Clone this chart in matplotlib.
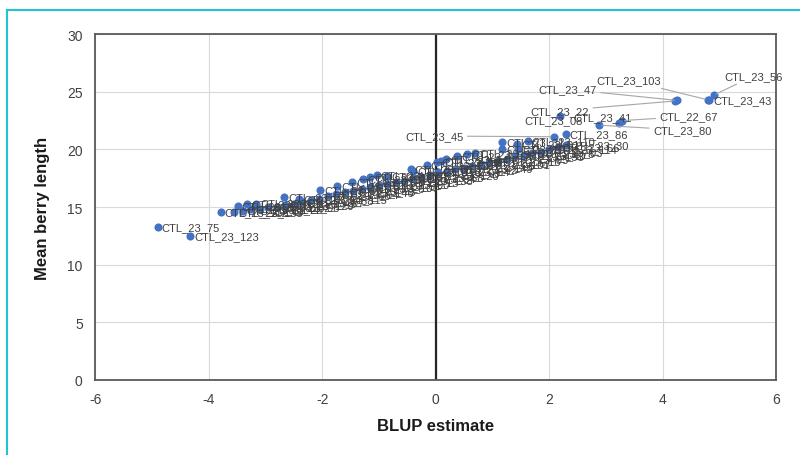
import matplotlib
matplotlib.use('Agg')
import matplotlib.pyplot as plt
from matplotlib.lines import Line2D

# Данные: генотип, оценка BLUP, средняя длина ягоды
names = ['CTL_23_75', 'CTL_23_123', 'CTL_23_56', 'CTL_23_43', 'CTL_23_103',
         'CTL_23_47', 'CTL_23_22', 'CTL_23_08', 'CTL_23_80', 'CTL_23_41',
         'CTL_22_67', 'CTL_23_45', 'CTL_23_86',
         'CTL_23_112', 'CTL_23_150', 'CTL_23_19', 'CTL_23_131', 'CTL_23_27',
         'CTL_23_64', 'CTL_23_93', 'CTL_23_15', 'CTL_23_71', 'CTL_23_58',
         'CTL_23_140', 'CTL_23_36', 'CTL_23_88', 'CTL_23_05', 'CTL_23_118',
         'CTL_23_62', 'CTL_23_29', 'CTL_23_99', 'CTL_23_14', 'CTL_23_77',
         'CTL_23_53', 'CTL_23_126', 'CTL_23_31', 'CTL_23_70', 'CTL_23_01',
         'CTL_23_65', 'CTL_23_110',
         'CTL_23_135', 'CTL_23_11', 'CTL_23_144', 'CTL_23_25', 'CTL_23_82',
         'CTL_23_06', 'CTL_23_129', 'CTL_23_49', 'CTL_23_97', 'CTL_23_38',
         'CTL_23_115', 'CTL_23_60', 'CTL_23_04', 'CTL_23_146', 'CTL_23_73',
         'CTL_23_20', 'CTL_23_107', 'CTL_23_51', 'CTL_23_90', 'CTL_23_13',
         'CTL_23_138', 'CTL_23_34', 'CTL_23_68', 'CTL_23_120', 'CTL_23_09',
         'CTL_23_84', 'CTL_23_42', 'CTL_23_149', 'CTL_23_26', 'CTL_23_101',
         'CTL_23_57', 'CTL_23_16', 'CTL_23_95', 'CTL_23_133', 'CTL_23_40',
         'CTL_23_78', 'CTL_23_03', 'CTL_23_114', 'CTL_23_66', 'CTL_23_30']
blup = [-4.90, -4.33, 4.90, 4.82, 4.80,
        4.26, 4.22, 2.20, 2.88, 3.23,
        3.29, 2.08, 2.29,
        -3.79, -3.49, -3.32, -3.17, -2.67, -2.40, -2.03, -1.73, -1.47, -1.28,
        -1.15, -1.04, -0.85, -0.44, -0.39, -0.16, 0.03, 0.09, 0.18, 0.38,
        0.56, 0.70, 1.17, 1.17, 1.44, 1.46, 1.62,
        -3.55, -3.40, -3.25, -3.10, -2.95, -2.80, -2.65, -2.50, -2.35, -2.20,
        -2.05, -1.90, -1.75, -1.60, -1.45, -1.30, -1.15, -1.00, -0.85, -0.70,
        -0.55, -0.40, -0.25, -0.10, 0.05, 0.20, 0.35, 0.50, 0.65, 0.80,
        0.95, 1.10, 1.25, 1.40, 1.55, 1.70, 1.85, 2.00, 2.15, 2.30]
berry = [13.3, 12.45, 24.7, 24.25, 24.3,
         24.25, 24.2, 22.9, 22.1, 22.3,
         22.5, 21.1, 21.3,
         14.6, 15.1, 15.25, 15.3, 15.9, 15.7, 16.5, 16.85, 17.15, 17.45,
         17.6, 17.75, 17.7, 18.3, 18.15, 18.65, 18.9, 19.0, 19.2, 19.45,
         19.6, 19.7, 20.6, 20.0, 20.5, 20.0, 20.75,
         14.6, 14.7, 14.8, 14.8, 15.0, 15.0, 15.2, 15.3, 15.4, 15.6,
         15.7, 16.0, 16.1, 16.3, 16.4, 16.6, 16.7, 16.9, 17.0, 17.2,
         17.3, 17.5, 17.6, 17.8, 18.0, 18.1, 18.3, 18.4, 18.6, 18.7,
         18.9, 19.0, 19.2, 19.4, 19.5, 19.7, 19.8, 20.0, 20.2, 20.4]

# Подписи, сдвинутые вручную: (dx, dy в пунктах, выравнивание, выноска)
moved = {
    'CTL_23_56': (8, 14, 'left', True),
    'CTL_23_103': (-34, 14, 'right', True),
    'CTL_23_47': (-58, 8, 'right', True),
    'CTL_23_22': (-62, -7, 'right', True),
    'CTL_23_08': (16, -3, 'right', False),
    'CTL_23_41': (9, 4, 'right', False),
    'CTL_22_67': (27, 3, 'left', True),
    'CTL_23_80': (39, -3.5, 'left', True),
    'CTL_23_45': (-65, 0.5, 'right', True),
}

plt.rcParams['font.family'] = ['Liberation Sans', 'DejaVu Sans']
plt.rcParams['axes.unicode_minus'] = False

fig = plt.figure(figsize=(8, 4.56), dpi=100)
ax = fig.add_axes([0.119, 0.1645, 0.851, 0.7585])

ax.scatter(blup, berry, s=34, color='#4472C4', linewidths=0, zorder=3)
for n, x, y in zip(names, blup, berry):
    dx, dy, ha, lead = moved.get(n, (3, 0, 'left', False))
    props = None
    if lead:
        props = dict(arrowstyle='-', color='#a6a6a6', lw=0.8, shrinkA=1, shrinkB=2)
    ax.annotate(n, (x, y), xytext=(dx, dy), textcoords='offset points',
                ha=ha, va='center', fontsize=8, color='#404040',
                zorder=4, arrowprops=props)

ax.set_xlim(-6, 6)
ax.set_ylim(0, 30)
ax.set_xticks(range(-6, 7, 2))
ax.set_yticks(range(0, 31, 5))
ax.grid(True, color='#d9d9d9', lw=0.8)
ax.set_axisbelow(True)
ax.axvline(0, color='#262626', lw=1.6, zorder=2)
for s in ax.spines.values():
    s.set_color('#595959')
    s.set_linewidth(1.3)
ax.tick_params(length=0, pad=9, labelsize=10, labelcolor='#404040')
ax.set_xlabel('BLUP estimate', fontsize=12, fontweight='bold', color='#1a1a1a', labelpad=8)
ax.set_ylabel('Mean berry length', fontsize=12, fontweight='bold', color='#1a1a1a', labelpad=12)

# Бирюзовая рамка
fig.add_artist(Line2D([7/800, 1], [1-11/456, 1-11/456], transform=fig.transFigure, color='#25c2d3', lw=1.5))
fig.add_artist(Line2D([7/800, 7/800], [0, 1-11/456], transform=fig.transFigure, color='#25c2d3', lw=1.5))

fig.savefig('out.png', dpi=100)
